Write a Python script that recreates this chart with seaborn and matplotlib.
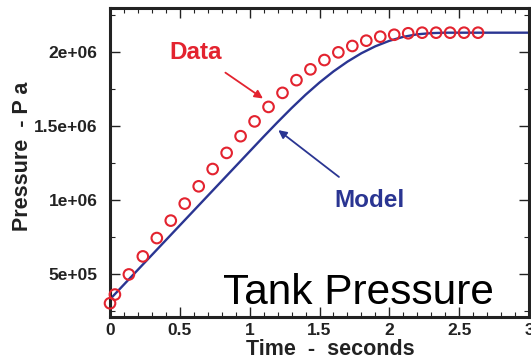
import matplotlib
matplotlib.use("Agg")
import matplotlib.pyplot as plt
from matplotlib.ticker import MultipleLocator, FixedLocator, FixedFormatter
import seaborn as sns
import pandas as pd

# Measured tank pressure (open circles)
data_time = [0.0, 0.035, 0.135, 0.235, 0.335, 0.435, 0.535, 0.635, 0.735,
             0.835, 0.935, 1.035, 1.135, 1.235, 1.335, 1.435, 1.535, 1.635,
             1.735, 1.835, 1.935, 2.035, 2.135, 2.235, 2.335, 2.435, 2.535,
             2.635]
data_pressure = [3.03e5, 3.62e5, 4.98e5, 6.20e5, 7.44e5, 8.62e5, 9.77e5,
                 1.094e6, 1.211e6, 1.320e6, 1.433e6, 1.533e6, 1.631e6,
                 1.726e6, 1.812e6, 1.885e6, 1.948e6, 2.000e6, 2.043e6,
                 2.079e6, 2.106e6, 2.119e6, 2.129e6, 2.133e6, 2.133e6,
                 2.133e6, 2.133e6, 2.133e6]

# Model prediction (solid line)
model_time = [0.0, 0.1, 0.2, 0.3, 0.4, 0.5, 0.6, 0.7, 0.8, 0.9, 1.0,
              1.1, 1.2, 1.3, 1.4, 1.5, 1.6, 1.7, 1.8, 1.9, 2.0,
              2.1, 2.2, 2.3, 2.4, 2.5, 2.6, 2.7, 2.8, 2.9, 3.0]
model_pressure = [3.30e5, 4.30e5, 5.30e5, 6.30e5, 7.30e5, 8.30e5, 9.30e5,
                  1.030e6, 1.130e6, 1.230e6, 1.330e6, 1.430e6, 1.528e6,
                  1.623e6, 1.713e6, 1.796e6, 1.871e6, 1.937e6, 1.994e6,
                  2.041e6, 2.078e6, 2.105e6, 2.122e6, 2.130e6, 2.133e6,
                  2.133e6, 2.133e6, 2.133e6, 2.133e6, 2.133e6, 2.133e6]

xtick_values = [0, 0.5, 1, 1.5, 2, 2.5, 3]
xtick_labels = ["0", "0.5", "1", "1.5", "2", "2.5", "3"]
ytick_values = [5e5, 1e6, 1.5e6, 2e6]
ytick_labels = ["5e+05", "1e+06", "1.5e+06", "2e+06"]

RED = "#e3232f"
NAVY = "#2a3592"
INK = "#222222"

sns.set_theme(style="ticks")
plt.rcParams["font.family"] = ["Liberation Sans", "DejaVu Sans"]

data_df = pd.DataFrame({"time": data_time, "pressure": data_pressure})
model_df = pd.DataFrame({"time": model_time, "pressure": model_pressure})

fig = plt.figure(figsize=(5.31, 3.60), dpi=100)
ax = fig.add_axes([0.2072, 0.1194, 0.7890, 0.8584])

sns.lineplot(data=model_df, x="time", y="pressure", ax=ax, color=NAVY,
             linewidth=1.7, zorder=2)
sns.scatterplot(data=data_df, x="time", y="pressure", ax=ax, marker="o",
                s=58, facecolors="none", edgecolor=RED, linewidth=1.5,
                zorder=3, clip_on=False)

ax.set_xlim(0, 3)
ax.set_ylim(2.1e5, 2.3e6)

ax.xaxis.set_major_locator(FixedLocator(xtick_values))
ax.xaxis.set_major_formatter(FixedFormatter(xtick_labels))
ax.xaxis.set_minor_locator(MultipleLocator(0.1))
ax.yaxis.set_major_locator(FixedLocator(ytick_values))
ax.yaxis.set_major_formatter(FixedFormatter(ytick_labels))
ax.yaxis.set_minor_locator(MultipleLocator(2.5e5))

ax.tick_params(which="both", direction="in", top=True, right=True,
               color=INK)
ax.tick_params(which="major", length=7, width=1.0)
ax.tick_params(which="minor", length=3.5, width=0.8)
ax.tick_params(axis="x", which="major", pad=4, labelsize=12.5,
               labelcolor=INK)
ax.tick_params(axis="y", which="major", pad=9, labelsize=12.5,
               labelcolor=INK)
for lbl in ax.get_xticklabels() + ax.get_yticklabels():
    lbl.set_fontweight("bold")

for side in ["left", "right", "top", "bottom"]:
    ax.spines[side].set_visible(True)
    ax.spines[side].set_linewidth(2.2)
    ax.spines[side].set_color(INK)

ax.set_xlabel("Time  -  seconds", fontsize=15.5, fontweight="bold",
              color=INK)
ax.set_ylabel("Pressure  - P a", fontsize=15.5, fontweight="bold",
              color=INK)
ax.xaxis.set_label_coords(0.525, -0.07)
ax.yaxis.set_label_coords(-0.185, 0.52)

# Annotations
ax.annotate("Data", xy=(1.095, 1.688e6), xytext=(0.615, 2.0e6),
            fontsize=17.5, fontweight="bold", color=RED,
            ha="center", va="center",
            arrowprops=dict(arrowstyle="-|>", color=RED, lw=1.3,
                            mutation_scale=12, shrinkA=7, shrinkB=0))
ax.annotate("Model", xy=(1.205, 1.474e6), xytext=(1.855, 1.0e6),
            fontsize=17.5, fontweight="bold", color=NAVY,
            ha="center", va="center",
            arrowprops=dict(arrowstyle="-|>", color=NAVY, lw=1.3,
                            mutation_scale=12, shrinkA=10, shrinkB=0))

ax.text(2.75, 3.0e5, "Tank Pressure", fontsize=30.5, color="black",
        ha="right", va="baseline")

ax.set_facecolor("white")
fig.patch.set_facecolor("white")
fig.savefig("out.png", dpi=100, facecolor="white")
